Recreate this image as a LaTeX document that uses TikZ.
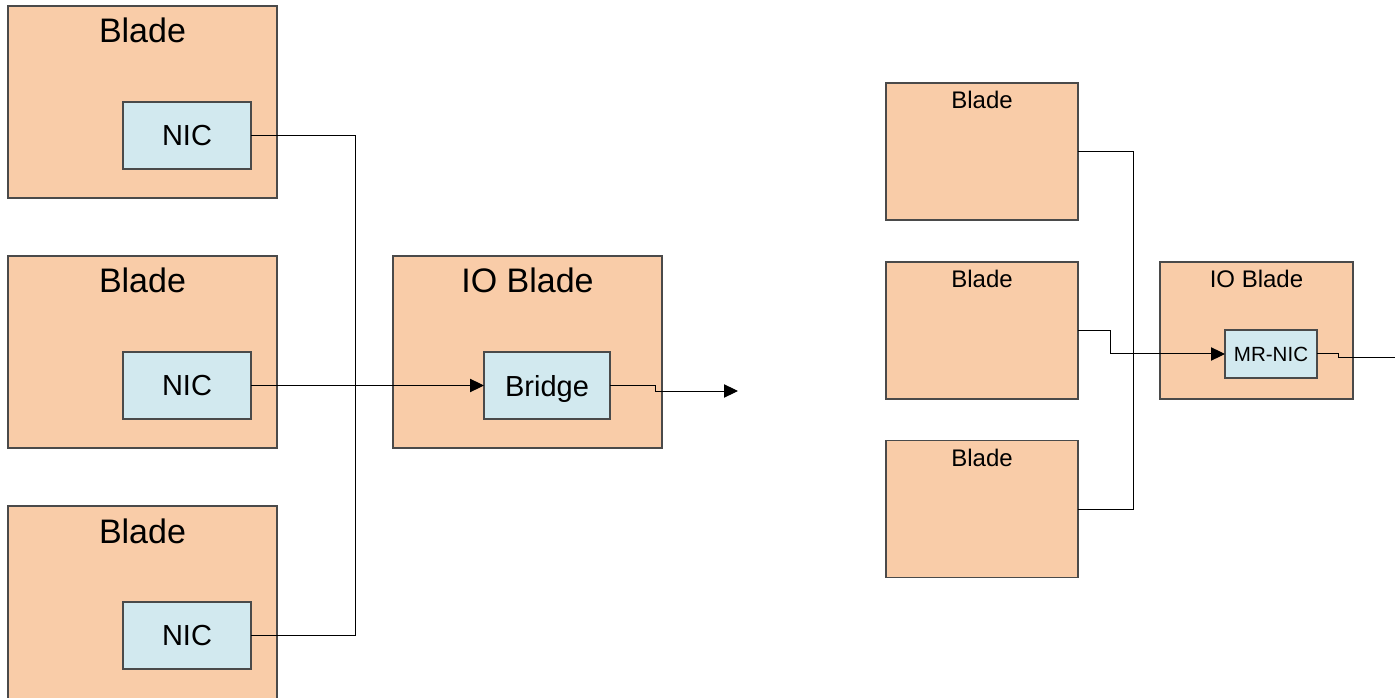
\documentclass[tikz,border=0pt]{standalone}
\usepackage{fontspec}
\setmainfont{Liberation Sans}
\usetikzlibrary{arrows.meta,calc}
\definecolor{peach}{HTML}{F9CCA8}
\definecolor{nicblue}{HTML}{D2E9EF}
\definecolor{edge}{HTML}{4A4A4A}
\begin{document}
\begin{tikzpicture}[x=0.75pt,y=-0.75pt,
  box/.style={draw=edge, line width=0.9pt, inner sep=0pt, outer sep=0pt},
  bigblade/.style={box, fill=peach, minimum width=201.75pt, minimum height=144pt},
  smallblade/.style={box, fill=peach, minimum width=144pt, minimum height=102.75pt},
  card/.style={box, fill=nicblue, font=\fontsize{21.75}{26}\selectfont},
  bigtitle/.style={anchor=base, inner sep=0pt, font=\fontsize{25.5}{30}\selectfont},
  smalltitle/.style={anchor=base, inner sep=0pt, font=\fontsize{18}{22}\selectfont},
  wire/.style={draw=black, line width=0.75pt},
  tip/.style={-{Triangle[length=10.5pt,width=10pt]}}]
\useasboundingbox (0,0) rectangle (1395,698);

% ---- left: one NIC per blade, shared through a bridge on the IO blade ----
\node[bigblade] (b1) at (142.5,102) {};
\node[bigblade] (b2) at (142.5,352) {};
% the lowest blade runs past the bottom of the page
\node[bigblade, minimum height=150pt] (b3) at (142.5,606) {};
\node[bigblade] (io) at (527.5,352) {};
\node[bigtitle] (t1) at ($(b1.north)+(0,37)$) {Blade};
\node[bigtitle] (t2) at ($(b2.north)+(0,37)$) {Blade};
\node[bigtitle] (t3) at ($(b3.north)+(0,37)$) {Blade};
\node[bigtitle] (tio) at ($(io.north)+(0,37)$) {IO Blade};
\node[card, minimum width=96pt, minimum height=50.25pt] (n1) at (187,135.5) {NIC};
\node[card, minimum width=96pt, minimum height=50.25pt] (n2) at (187,385.5) {NIC};
\node[card, minimum width=96pt, minimum height=50.25pt] (n3) at (187,635.5) {NIC};
\node[card, minimum width=94.5pt, minimum height=50.25pt, text depth=0pt] (br) at (547,385.5) {Bridge};
\coordinate (out1) at (738,391);

\draw[wire] (n1.east) -- ++(104,0) |- (n3.east);
\draw[wire, tip] (n2.east) -- (br.west);
\draw[wire, tip] (br.east) -- ++(45,0) |- (out1);

% ---- right: blades share a multi-root NIC on the IO blade ----
\node[smallblade] (rb1) at (982,151.5) {};
\node[smallblade] (rb2) at (982,330.5) {};
\node[smallblade] (rb3) at (982,509) {};
\node[smallblade, minimum width=144.75pt] (rio) at (1256.5,330.5) {};
\node[smalltitle] (rt1) at ($(rb1.north)+(0,26)$) {Blade};
\node[smalltitle] (rt2) at ($(rb2.north)+(0,26)$) {Blade};
\node[smalltitle] (rt3) at ($(rb3.north)+(0,26)$) {Blade};
\node[smalltitle] (rtio) at ($(rio.north)+(0,26)$) {IO Blade};
\node[card, minimum width=69pt, minimum height=36pt, font=\fontsize{15.4}{18}\selectfont] (mr) at (1271,354) {MR-NIC};
\coordinate (out2) at (1400,358);

\draw[wire] (rb1.east) -- ++(55,0) |- (rb3.east);
\draw[wire, tip] (rb2.east) -- ++(32,0) |- (mr.west);
\draw[wire] (mr.east) -- ++(21,0) |- (out2);
\end{tikzpicture}
\end{document}
